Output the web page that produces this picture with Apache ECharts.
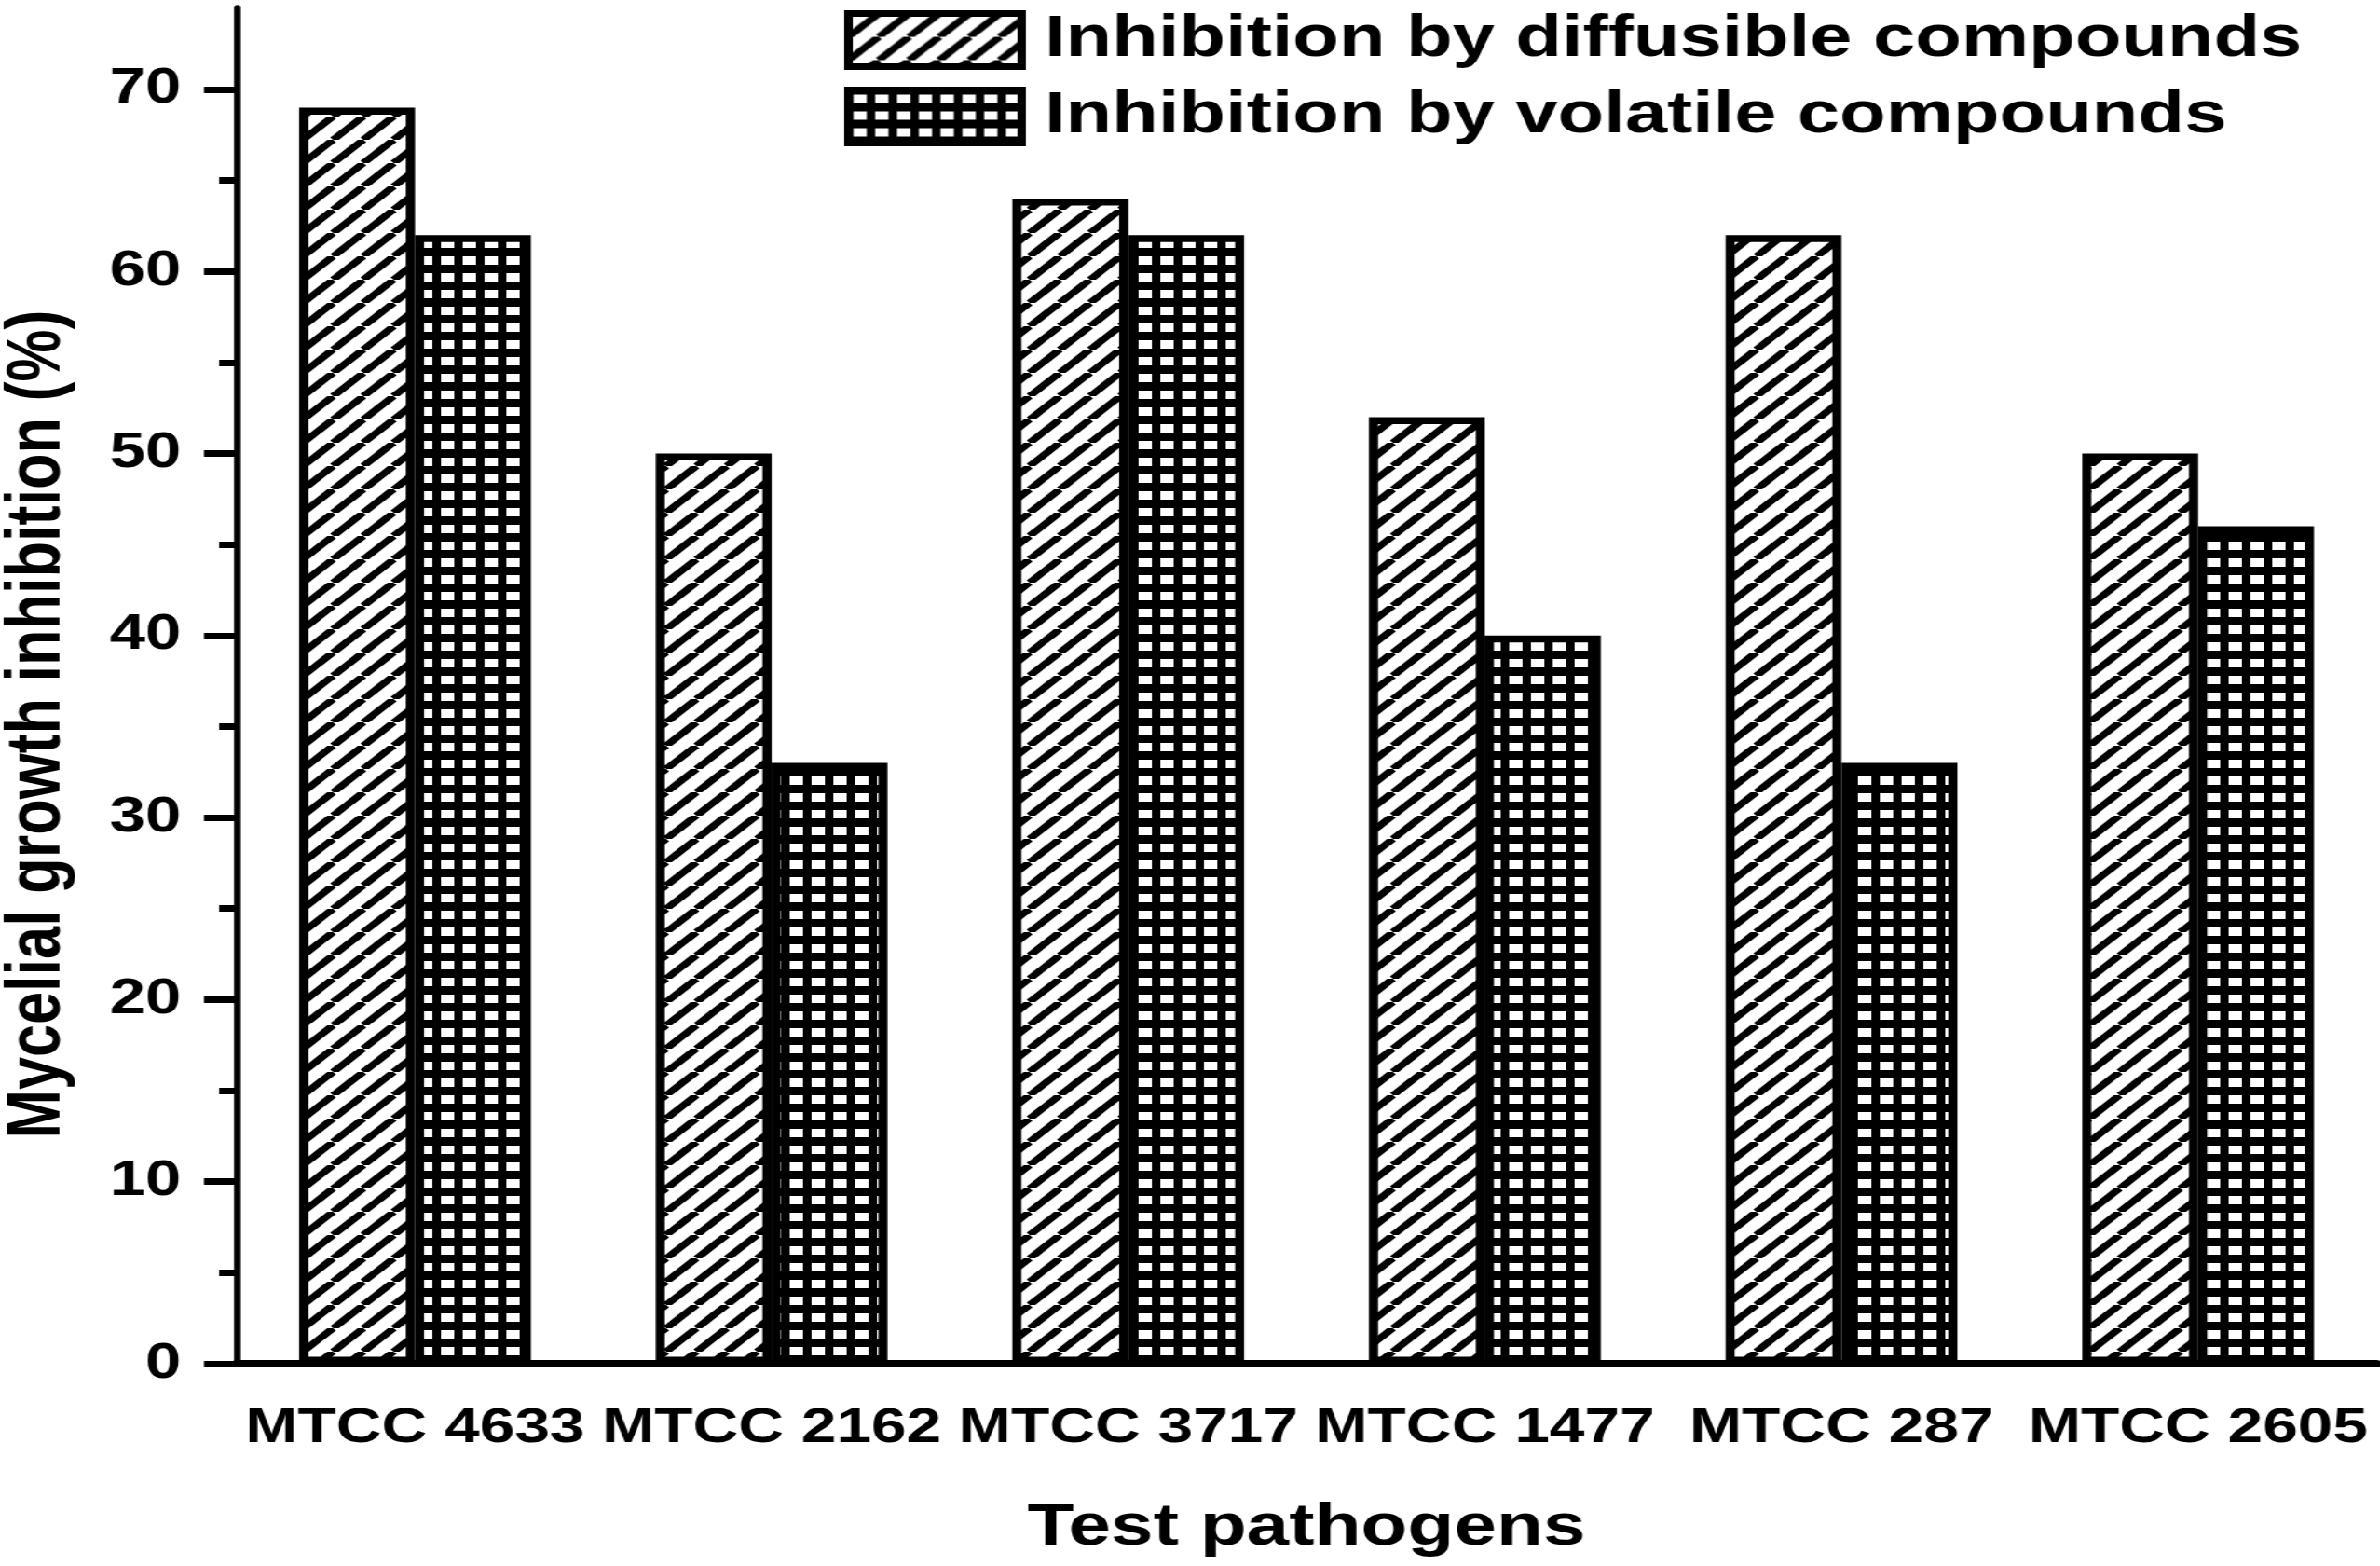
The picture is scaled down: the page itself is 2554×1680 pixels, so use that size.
<!DOCTYPE html>
<html>
<head>
<meta charset="utf-8">
<title>Mycelial growth inhibition</title>
<script src="https://cdn.jsdelivr.net/npm/echarts@6/dist/echarts.min.js"></script>
<style>
  html, body { margin: 0; padding: 0; background: #fff; overflow: hidden; }
  /* the original figure is stretched sideways, so draw narrower and widen it */
  #chart { width: 1965px; height: 1680px; transform: scaleX(1.29975); transform-origin: 0 0; }
</style>
</head>
<body>
<div id="chart"></div>
<script>
var categories = ['MTCC 4633', 'MTCC 2162', 'MTCC 3717', 'MTCC 1477', 'MTCC 287', 'MTCC 2605'];
var diffusible = [69, 50, 64, 52, 62, 50];
var volatileComp = [62, 33, 62, 40, 33, 46];
var yTicks = [0, 10, 20, 30, 40, 50, 60, 70];
var yMinorTicks = [5, 15, 25, 35, 45, 55, 65];

var font = '"Liberation Sans", Arial, sans-serif';

// diagonal hatch "/" for the diffusible bars
function hatchPattern() {
  var c = document.createElement('canvas');
  c.width = 25;
  c.height = 25;
  var ctx = c.getContext('2d');
  ctx.fillStyle = '#fff';
  ctx.fillRect(0, 0, 25, 25);
  ctx.strokeStyle = '#000';
  ctx.lineWidth = 6.8;
  for (var k = -1; k <= 1; k++) {
    ctx.beginPath();
    ctx.moveTo(k * 25, 25);
    ctx.lineTo(k * 25 + 25, 0);
    ctx.stroke();
  }
  return { image: c, repeat: 'repeat' };
}

// black grid with white cells for the volatile bars
function gridPattern() {
  var c = document.createElement('canvas');
  c.width = 18;
  c.height = 18;
  var ctx = c.getContext('2d');
  ctx.fillStyle = '#000';
  ctx.fillRect(0, 0, 18, 18);
  ctx.fillStyle = '#fff';
  ctx.fillRect(4, 5, 11, 9);
  return { image: c, repeat: 'repeat' };
}

var chartDom = document.getElementById('chart');
var myChart = echarts.init(chartDom);
var option;

option = {
  animation: false,
  backgroundColor: '#fff',
  textStyle: { fontFamily: font, fontWeight: 'bold', color: '#000' },
  grid: { left: 195.4, right: 3, top: 8, bottom: 217, outerBoundsMode: 'none' },
  legend: {
    orient: 'vertical',
    left: 692,
    top: 6,
    icon: 'rect',
    itemWidth: 143,
    itemHeight: 57,
    itemGap: 18,
    selectedMode: false,
    itemStyle: { borderColor: '#000', borderWidth: 7 },
    textStyle: { fontSize: 62.5, fontWeight: 'bold', fontFamily: font, color: '#000', padding: [0, 0, 0, 14] },
    data: ['Inhibition by diffusible compounds', 'Inhibition by volatile compounds']
  },
  xAxis: [
    {
      type: 'category',
      position: 'bottom',
      data: categories,
      name: 'Test pathogens',
      nameLocation: 'middle',
      nameGap: 145,
      nameMoveOverlap: false,
      nameTextStyle: { fontSize: 63, fontWeight: 'bold', fontFamily: font, color: '#000' },
      axisLine: { lineStyle: { color: '#000', width: 8 } },
      axisTick: { alignWithLabel: true, length: 28, lineStyle: { color: '#000', width: 5.5 } },
      axisLabel: { interval: 0, margin: 44, fontSize: 52, fontWeight: 'bold', fontFamily: font, color: '#000' },
      splitLine: { show: false }
    },
    {
      type: 'category',
      position: 'bottom',
      data: categories,
      axisLine: { show: false },
      axisTick: { length: 14, lineStyle: { color: '#000', width: 5.5 } },
      axisLabel: { show: false },
      splitLine: { show: false }
    }
  ],
  yAxis: [
    {
      type: 'value',
      position: 'left',
      min: 0,
      max: 74.5,
      interval: 10,
      name: 'Mycelial growth inhibition (%)',
      nameLocation: 'middle',
      nameGap: 132,
      nameMoveOverlap: false,
      nameTextStyle: { fontSize: 63, fontWeight: 'bold', fontFamily: font, color: '#000', padding: [0, 83, 0, 0] },
      axisLine: { show: true, lineStyle: { color: '#000', width: 5.5 } },
      axisTick: { show: true, length: 27, customValues: yTicks, lineStyle: { color: '#000', width: 7 } },
      axisLabel: { customValues: yTicks, margin: 46, fontSize: 53, fontWeight: 'bold', fontFamily: font, color: '#000' },
      splitLine: { show: false }
    },
    {
      type: 'value',
      position: 'left',
      min: 0,
      max: 74.5,
      axisLine: { show: false },
      axisTick: { show: true, length: 14.5, customValues: yMinorTicks, lineStyle: { color: '#000', width: 7 } },
      axisLabel: { show: false },
      splitLine: { show: false }
    }
  ],
  series: [
    {
      name: 'Inhibition by diffusible compounds',
      type: 'bar',
      data: diffusible,
      barGap: 0,
      barCategoryGap: '35%',
      itemStyle: { color: hatchPattern(), borderColor: '#000', borderWidth: 7.5 }
    },
    {
      name: 'Inhibition by volatile compounds',
      type: 'bar',
      data: volatileComp,
      barGap: 0,
      barCategoryGap: '35%',
      itemStyle: { color: gridPattern(), borderColor: '#000', borderWidth: 7.5 }
    }
  ]
};

option && myChart.setOption(option);
</script>
</body>
</html>
